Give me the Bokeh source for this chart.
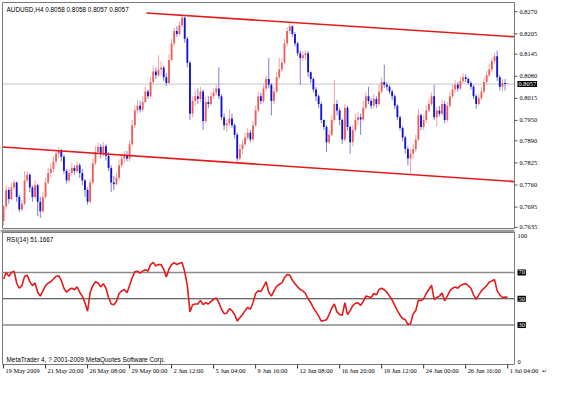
from bokeh.plotting import figure
from bokeh.models import ColumnDataSource, Range1d, Label
from bokeh.layouts import column
from bokeh.embed import file_html
from bokeh.resources import INLINE

symbol = "AUDUSD,H4"

opens = [0.7654, 0.7697, 0.7745, 0.7719, 0.7753, 0.7767, 0.7725, 0.7688, 0.7705, 0.7773,
         0.7790, 0.7753, 0.7725, 0.7759, 0.7711, 0.7683, 0.7725, 0.7767, 0.7795, 0.7807,
         0.7829, 0.7852, 0.7863, 0.7843, 0.7801, 0.7773, 0.7795, 0.7810, 0.7801, 0.7818,
         0.7795, 0.7773, 0.7745, 0.7711, 0.7767, 0.7824, 0.7857, 0.7872, 0.7852, 0.7874,
         0.7846, 0.7810, 0.7767, 0.7762, 0.7781, 0.7818, 0.7838, 0.7846, 0.7838, 0.7880,
         0.7936, 0.7979, 0.7993, 0.7982, 0.8004, 0.8035, 0.8021, 0.8063, 0.8094, 0.8083,
         0.8100, 0.8106, 0.8077, 0.8060, 0.8128, 0.8176, 0.8213, 0.8204, 0.8230, 0.8252,
         0.8190, 0.8120, 0.7970, 0.8007, 0.8021, 0.8013, 0.8035, 0.7948, 0.8004, 0.7998,
         0.8021, 0.8032, 0.8044, 0.8021, 0.7959, 0.7936, 0.7942, 0.7956, 0.7936, 0.7908,
         0.7838, 0.7866, 0.7880, 0.7900, 0.7914, 0.7894, 0.7936, 0.7979, 0.8021, 0.8007,
         0.8044, 0.8072, 0.8055, 0.8007, 0.8035, 0.8077, 0.8100, 0.8120, 0.8176, 0.8213,
         0.8227, 0.8204, 0.8176, 0.8148, 0.8134, 0.8142, 0.8148, 0.8092, 0.8072, 0.8041,
         0.8021, 0.7998, 0.7951, 0.7931, 0.7886, 0.7908, 0.7951, 0.7998, 0.7979, 0.7951,
         0.7894, 0.7987, 0.7931, 0.7886, 0.7922, 0.7951, 0.7959, 0.7953, 0.7987, 0.8021,
         0.8007, 0.7993, 0.8013, 0.7998, 0.8035, 0.8063, 0.8055, 0.8049, 0.8035, 0.8021,
         0.7993, 0.7959, 0.7928, 0.7900, 0.7866, 0.7838, 0.7852, 0.7866, 0.7894, 0.7965,
         0.7931, 0.7951, 0.7979, 0.7998, 0.8021, 0.7959, 0.7979, 0.7970, 0.7998, 0.7951,
         0.7993, 0.8021, 0.8041, 0.8055, 0.8044, 0.8066, 0.8077, 0.8072, 0.8060, 0.8049,
         0.8021, 0.7998, 0.8015, 0.8035, 0.8063, 0.8083, 0.8100, 0.8125, 0.8139, 0.8077,
         0.8049, 0.8060, 0.8058]
highs = [0.7702, 0.7759, 0.7753, 0.7767, 0.7776, 0.7770, 0.7731, 0.7716, 0.7801, 0.7801,
         0.7795, 0.7759, 0.7773, 0.7764, 0.7725, 0.7739, 0.7781, 0.7810, 0.7824, 0.7846,
         0.7863, 0.7872, 0.7866, 0.7849, 0.7807, 0.7807, 0.7824, 0.7818, 0.7829, 0.7824,
         0.7807, 0.7778, 0.7753, 0.7778, 0.7838, 0.7874, 0.7886, 0.7880, 0.7886, 0.7880,
         0.7857, 0.7818, 0.7787, 0.7795, 0.7835, 0.7852, 0.7860, 0.7860, 0.7891, 0.7951,
         0.7993, 0.8010, 0.8007, 0.8021, 0.8049, 0.8041, 0.8077, 0.8111, 0.8106, 0.8142,
         0.8123, 0.8111, 0.8089, 0.8145, 0.8190, 0.8224, 0.8227, 0.8241, 0.8261, 0.8255,
         0.8196, 0.8125, 0.8021, 0.8038, 0.8044, 0.8049, 0.8041, 0.8021, 0.8021, 0.8032,
         0.8044, 0.8055, 0.8106, 0.8027, 0.7970, 0.7953, 0.7984, 0.7970, 0.7942, 0.7914,
         0.7880, 0.7894, 0.7914, 0.7928, 0.7922, 0.7948, 0.7993, 0.8035, 0.8032, 0.8055,
         0.8083, 0.8134, 0.8060, 0.8049, 0.8092, 0.8134, 0.8134, 0.8190, 0.8224, 0.8238,
         0.8230, 0.8210, 0.8182, 0.8156, 0.8154, 0.8156, 0.8154, 0.8094, 0.8077, 0.8049,
         0.8027, 0.8004, 0.7953, 0.7936, 0.7922, 0.7965, 0.8069, 0.8010, 0.7987, 0.7956,
         0.7998, 0.7993, 0.7936, 0.7936, 0.7970, 0.7976, 0.7970, 0.8007, 0.8035, 0.8049,
         0.8015, 0.8027, 0.8021, 0.8055, 0.8077, 0.8114, 0.8063, 0.8055, 0.8041, 0.8027,
         0.7998, 0.7965, 0.7934, 0.7905, 0.7874, 0.7866, 0.7880, 0.7908, 0.7984, 0.7970,
         0.7965, 0.7993, 0.8013, 0.8032, 0.8055, 0.7990, 0.7993, 0.8010, 0.8007, 0.8004,
         0.8035, 0.8055, 0.8069, 0.8063, 0.8077, 0.8089, 0.8086, 0.8077, 0.8066, 0.8055,
         0.8027, 0.8027, 0.8049, 0.8077, 0.8097, 0.8117, 0.8134, 0.8148, 0.8156, 0.8083,
         0.8072, 0.8072, 0.8058]
lows = [0.7640, 0.7688, 0.7705, 0.7716, 0.7745, 0.7711, 0.7680, 0.7683, 0.7700, 0.7767,
        0.7739, 0.7711, 0.7719, 0.7669, 0.7663, 0.7677, 0.7719, 0.7762, 0.7781, 0.7795,
        0.7818, 0.7838, 0.7829, 0.7793, 0.7764, 0.7767, 0.7787, 0.7790, 0.7795, 0.7781,
        0.7759, 0.7725, 0.7702, 0.7705, 0.7762, 0.7818, 0.7852, 0.7838, 0.7843, 0.7832,
        0.7801, 0.7739, 0.7745, 0.7759, 0.7773, 0.7810, 0.7824, 0.7829, 0.7829, 0.7874,
        0.7928, 0.7970, 0.7973, 0.7976, 0.8001, 0.8013, 0.8015, 0.8055, 0.8072, 0.8077,
        0.8083, 0.8066, 0.8052, 0.8055, 0.8123, 0.8168, 0.8196, 0.8199, 0.8224, 0.8179,
        0.8106, 0.7951, 0.7959, 0.7993, 0.7998, 0.8004, 0.7922, 0.7942, 0.7987, 0.7993,
        0.8013, 0.8024, 0.8013, 0.7951, 0.7922, 0.7917, 0.7934, 0.7928, 0.7897, 0.7829,
        0.7832, 0.7852, 0.7874, 0.7891, 0.7886, 0.7888, 0.7931, 0.7973, 0.7998, 0.8001,
        0.8035, 0.8044, 0.7965, 0.7998, 0.8029, 0.8072, 0.8092, 0.8114, 0.8168, 0.8204,
        0.8196, 0.8168, 0.8139, 0.8055, 0.8125, 0.8128, 0.8077, 0.8060, 0.8032, 0.8007,
        0.7987, 0.7942, 0.7922, 0.7857, 0.7880, 0.7903, 0.7945, 0.7965, 0.7936, 0.7880,
        0.7888, 0.7920, 0.7852, 0.7874, 0.7917, 0.7936, 0.7908, 0.7948, 0.7982, 0.7998,
        0.7984, 0.7987, 0.7987, 0.7993, 0.8029, 0.8046, 0.8038, 0.8027, 0.8010, 0.7984,
        0.7951, 0.7920, 0.7888, 0.7852, 0.7818, 0.7793, 0.7838, 0.7857, 0.7888, 0.7922,
        0.7922, 0.7942, 0.7973, 0.7993, 0.7951, 0.7931, 0.7962, 0.7965, 0.7942, 0.7945,
        0.7987, 0.8015, 0.8032, 0.8035, 0.8038, 0.8058, 0.8063, 0.8055, 0.8041, 0.8013,
        0.7984, 0.7993, 0.8010, 0.8029, 0.8055, 0.8077, 0.8092, 0.8117, 0.8066, 0.8038,
        0.8035, 0.8038, 0.8057]
closes = [0.7697, 0.7745, 0.7719, 0.7753, 0.7767, 0.7725, 0.7688, 0.7705, 0.7773, 0.7790,
          0.7753, 0.7725, 0.7759, 0.7711, 0.7683, 0.7725, 0.7767, 0.7795, 0.7807, 0.7829,
          0.7852, 0.7863, 0.7843, 0.7801, 0.7773, 0.7795, 0.7810, 0.7801, 0.7818, 0.7795,
          0.7773, 0.7745, 0.7711, 0.7767, 0.7824, 0.7857, 0.7872, 0.7852, 0.7874, 0.7846,
          0.7810, 0.7767, 0.7762, 0.7781, 0.7818, 0.7838, 0.7846, 0.7838, 0.7880, 0.7936,
          0.7979, 0.7993, 0.7982, 0.8004, 0.8035, 0.8021, 0.8063, 0.8094, 0.8083, 0.8100,
          0.8106, 0.8077, 0.8060, 0.8128, 0.8176, 0.8213, 0.8204, 0.8230, 0.8252, 0.8190,
          0.8120, 0.7970, 0.8007, 0.8021, 0.8013, 0.8035, 0.7948, 0.8004, 0.7998, 0.8021,
          0.8032, 0.8044, 0.8021, 0.7959, 0.7936, 0.7942, 0.7956, 0.7936, 0.7908, 0.7838,
          0.7866, 0.7880, 0.7900, 0.7914, 0.7894, 0.7936, 0.7979, 0.8021, 0.8007, 0.8044,
          0.8072, 0.8055, 0.8007, 0.8035, 0.8077, 0.8100, 0.8120, 0.8176, 0.8213, 0.8227,
          0.8204, 0.8176, 0.8148, 0.8134, 0.8142, 0.8148, 0.8092, 0.8072, 0.8041, 0.8021,
          0.7998, 0.7951, 0.7931, 0.7886, 0.7908, 0.7951, 0.7998, 0.7979, 0.7951, 0.7894,
          0.7987, 0.7931, 0.7886, 0.7922, 0.7951, 0.7959, 0.7953, 0.7987, 0.8021, 0.8007,
          0.7993, 0.8013, 0.7998, 0.8035, 0.8063, 0.8055, 0.8049, 0.8035, 0.8021, 0.7993,
          0.7959, 0.7928, 0.7900, 0.7866, 0.7838, 0.7852, 0.7866, 0.7894, 0.7965, 0.7931,
          0.7951, 0.7979, 0.7998, 0.8021, 0.7959, 0.7979, 0.7970, 0.7998, 0.7951, 0.7993,
          0.8021, 0.8041, 0.8055, 0.8044, 0.8066, 0.8077, 0.8072, 0.8060, 0.8049, 0.8021,
          0.7998, 0.8015, 0.8035, 0.8063, 0.8083, 0.8100, 0.8125, 0.8139, 0.8077, 0.8049,
          0.8060, 0.8057, 0.8057]

rsi_values = [65, 70, 67, 70, 71, 62, 58, 60, 67, 68,
              63, 60, 62, 55, 52, 56, 60, 62, 63, 65,
              67, 67.5, 64, 58, 55, 57, 58, 57, 59, 55,
              52, 47, 40.5, 55, 60, 63, 62, 59, 61.5, 58,
              51, 46, 45.5, 48, 54, 56, 57, 54.5, 60, 66,
              70.5, 71, 69.5, 71, 72, 71, 76, 77.6, 75, 76,
              76, 72.5, 66.5, 72.5, 76, 77.5, 76, 77, 77.5, 70.5,
              60, 40, 45.5, 46, 46, 48.8, 45.5, 47, 46, 48,
              49.5, 50.7, 47, 42, 38.7, 39, 42.5, 41, 38, 33,
              35.5, 38, 41, 43.5, 42, 47, 54, 56, 55.5, 59,
              63, 55, 52, 56, 59.5, 61, 62, 66, 68.5, 68,
              64, 61.5, 59, 57, 56, 54, 50, 47, 43, 40,
              37, 33, 33.5, 34, 38, 43, 46, 40, 38, 37.5,
              47, 38, 41, 44.7, 46.5, 47, 45, 48, 52, 51.5,
              51, 54, 53, 57, 58, 56.7, 55, 52, 49, 45,
              41, 37.5, 35, 34, 30.5, 31, 38.5, 41, 49, 48.5,
              50, 54, 57, 60.3, 49.5, 51, 52, 54.3, 48.5, 52,
              56, 58, 59, 58, 60, 61, 61.5, 60, 58, 53,
              49.5, 53, 56, 58, 60, 62.7, 63.5, 64.6, 56, 53,
              51, 51.3, 51.1667]
rsi_levels = [70, 50, 30]
rsi_scale_labels = [0, 100]

price_ticks = [0.7635, 0.7695, 0.7760, 0.7825, 0.7890, 0.7950, 0.8015,
               0.8080, 0.8145, 0.8205, 0.8270]
time_tick_bars = [0, 16, 32, 48, 64, 80, 96, 112, 128, 144, 160, 176, 192]
time_tick_labels = ["19 May 2009", "21 May 20:00", "26 May 08:00", "29 May 00:00",
                    "2 Jun 12:00", "5 Jun 04:00", "9 Jun 16:00", "12 Jun 08:00",
                    "16 Jun 20:00", "19 Jun 12:00", "24 Jun 00:00", "26 Jun 16:00",
                    "1 Jul 04:00"]

# trend lines (anchor bar, anchor price)
upper_trend_bars = [54.4, 194.6]
upper_trend_prices = [0.8266, 0.8196]
lower_trend_bars = [-0.4, 194.6]
lower_trend_prices = [0.7872, 0.7770]

# ---------------- styling / layout ----------------
FONT = "Liberation Sans"
FS = "6.4px"
UP_BODY, UP_WICK = "#ee5c5c", "#f4a4a4"
DN_BODY, DN_WICK = "#1212d4", "#7c7ce8"
TREND = "#e21b1b"
FRAME = "#7a7a7a"

W = 555
LEFT_PX, PANEL_W = 2, 512
H1, TOP1_PX, PANEL1_H = 229, 2, 226
H2, TOP2_PX, PANEL2_H = 150, 3, 132

X0, X1 = -0.4, 194.6          # bar span of the chart panels
PY0, PY1 = 0.7632, 0.8297      # price span of the main panel
RY0, RY1 = 0.0, 100.4          # RSI span

kx = PANEL_W / (X1 - X0)
XS = X0 - LEFT_PX / kx
XE = XS + W / kx
ky1 = PANEL1_H / (PY1 - PY0)
ky2 = PANEL2_H / (RY1 - RY0)
x_range = Range1d(XS, XE)

bars = list(range(len(closes)))
is_up = [c >= o for o, c in zip(opens, closes)]
src = ColumnDataSource(dict(
    x=bars, high=highs, low=lows,
    top=[max(o, c) for o, c in zip(opens, closes)],
    bottom=[min(o, c) for o, c in zip(opens, closes)],
    body=[UP_BODY if u else DN_BODY for u in is_up],
    wick=[UP_WICK if u else DN_WICK for u in is_up],
))


def make_fig(h, ys, ye):
    f = figure(width=W, height=h, x_range=x_range, y_range=Range1d(ys, ye),
               output_backend="svg", toolbar_location=None, title=None,
               x_axis_location=None, y_axis_location=None, min_border=0)
    f.grid.visible = False
    f.outline_line_color = None
    f.background_fill_color = "white"
    f.border_fill_color = "white"
    return f


# ---------------- main price panel ----------------
main = make_fig(H1, PY1 - H1 / ky1 + TOP1_PX / ky1, PY1 + TOP1_PX / ky1)

main.segment(x0=[X0], y0=[closes[-1]], x1=[X1], y1=[closes[-1]],
             line_color="#c4c4c4", line_width=1)
main.segment(x0="x", y0="low", x1="x", y1="high", line_color="wick", line_width=1, source=src)
main.vbar(x="x", width=0.7, top="top", bottom="bottom", fill_color="body",
          line_color=None, source=src)
main.line(upper_trend_bars, upper_trend_prices, line_color=TREND, line_width=1.6)
main.line(lower_trend_bars, lower_trend_prices, line_color=TREND, line_width=1.6)
main.quad(left=[X0], right=[X1], bottom=[PY0], top=[PY1], fill_color=None,
          line_color=FRAME, line_width=1)

# right price scale
main.segment(x0=[X1] * len(price_ticks), y0=price_ticks,
             x1=[X1 + 3 / kx] * len(price_ticks), y1=price_ticks,
             line_color="#555555", line_width=1)
main.text(x=[X1] * len(price_ticks), y=price_ticks, text=[f"{t:.4f}" for t in price_ticks],
          x_offset=5, text_baseline="middle", text_align="left",
          text_font=FONT, text_font_size=FS, text_color="black")
main.text(x=[X1], y=[closes[-1]], text=[f"{closes[-1]:.4f}"], x_offset=3,
          text_baseline="middle", text_align="left", text_font=FONT, text_font_size=FS,
          text_color="white", background_fill_color="black", padding=1)

main.add_layout(Label(x=X0, y=PY1, x_offset=4, y_offset=-3,
                      text=f"{symbol}  {opens[-1]:.4f} {highs[-1]:.4f} {lows[-1]:.4f} {closes[-1]:.4f}",
                      text_baseline="top", text_align="left",
                      text_font=FONT, text_font_size=FS, text_color="black"))

# ---------------- RSI panel ----------------
rsi = make_fig(H2, RY1 - (H2 - TOP2_PX) / ky2, RY1 + TOP2_PX / ky2)

rsi.segment(x0=[XS], y0=[RY1 + 1.5 / ky2], x1=[X1], y1=[RY1 + 1.5 / ky2],
            line_color="#9a9a9a", line_width=3)
for lvl in rsi_levels:
    rsi.segment(x0=[X0], y0=[lvl], x1=[X1], y1=[lvl],
                line_color="#3a3a3a" if lvl == 50 else "#8a8a8a",
                line_width=1 if lvl == 50 else 1.5)
rsi.line(bars, rsi_values, line_color=TREND, line_width=1.6)
rsi.quad(left=[X0], right=[X1], bottom=[RY0], top=[RY1], fill_color=None,
         line_color=FRAME, line_width=1)

# right RSI scale
rsi.text(x=[X1], y=[rsi_scale_labels[1]], text=[str(rsi_scale_labels[1])], x_offset=3,
         y_offset=1, text_baseline="top", text_align="left",
         text_font=FONT, text_font_size=FS, text_color="black")
rsi.text(x=[X1], y=[rsi_scale_labels[0]], text=[str(rsi_scale_labels[0])], x_offset=3,
         y_offset=-1, text_baseline="bottom", text_align="left",
         text_font=FONT, text_font_size=FS, text_color="black")
rsi.text(x=[X1] * len(rsi_levels), y=rsi_levels, text=[str(v) for v in rsi_levels],
         x_offset=3, text_baseline="middle", text_align="left",
         text_font=FONT, text_font_size=FS, text_color="white",
         background_fill_color="black", padding=1)

# time scale below the RSI panel
rsi.segment(x0=time_tick_bars, y0=[RY0] * len(time_tick_bars),
            x1=time_tick_bars, y1=[RY0 - 4 / ky2] * len(time_tick_bars),
            line_color="#333333", line_width=1)
rsi.text(x=time_tick_bars, y=[RY0] * len(time_tick_bars), text=time_tick_labels,
         x_offset=2, y_offset=2, text_baseline="top", text_align="left",
         text_font=FONT, text_font_size=FS, text_color="black")
rsi.text(x=[X1], y=[RY0], text=["\u21b5"], x_offset=27, y_offset=2,
         text_baseline="top", text_align="left",
         text_font="DejaVu Sans", text_font_size=FS, text_color="#333333")

rsi.add_layout(Label(x=X0, y=RY1, x_offset=4, y_offset=-3,
                     text=f"RSI(14) {rsi_values[-1]:.4f}",
                     text_baseline="top", text_align="left",
                     text_font=FONT, text_font_size=FS, text_color="black"))
rsi.add_layout(Label(x=X0, y=RY0, x_offset=4, y_offset=2,
                     text="MetaTrader 4, ? 2001-2009 MetaQuotes Software Corp.",
                     text_baseline="bottom", text_align="left",
                     text_font=FONT, text_font_size=FS, text_color="black"))

layout = column(main, rsi, spacing=0)
open("out.html", "w").write(file_html(layout, INLINE))
